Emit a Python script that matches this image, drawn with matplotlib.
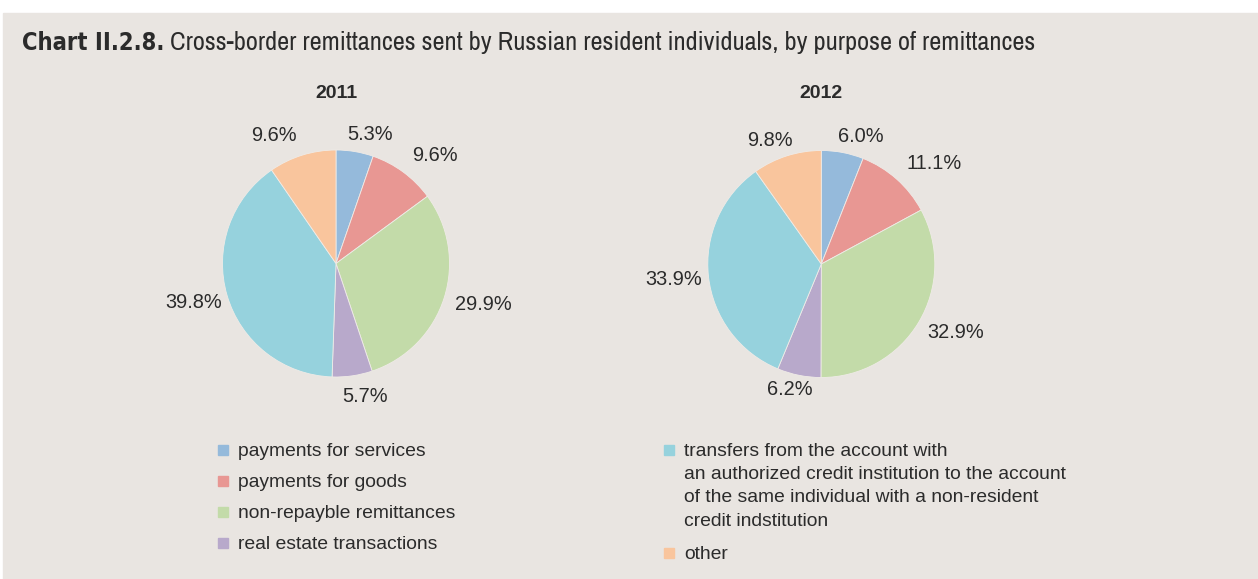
import numpy as np
import matplotlib
matplotlib.use("Agg")
import matplotlib.pyplot as plt
from matplotlib import font_manager
from matplotlib.patches import Rectangle

# Data
years = ["2011", "2012"]
shares_2011 = [5.3, 9.6, 29.9, 5.7, 39.8, 9.6]
shares_2012 = [6.0, 11.1, 32.9, 6.2, 33.9, 9.8]
labels_2011 = ["5.3%", "9.6%", "29.9%", "5.7%", "39.8%", "9.6%"]
labels_2012 = ["6.0%", "11.1%", "32.9%", "6.2%", "33.9%", "9.8%"]
categories = [
    "payments for services",
    "payments for goods",
    "non-repayble remittances",
    "real estate transactions",
    "transfers from the account with\nan authorized credit institution to the account\n"
    "of the same individual with a non-resident\ncredit indstitution",
    "other",
]
colors = ["#95BADB", "#E89793", "#C3DBA9", "#B8A9CB", "#96D2DD", "#F9C59D"]

BG = "#E9E5E1"
TXT = "#2B2B2B"

# Narrow face for the title text, if installed
installed = font_manager.fontManager.ttflist
title_font, title_stretch, title_size = "DejaVu Sans", "condensed", 17
for cand in ["Archivo Narrow", "Liberation Sans Narrow", "Asap Condensed"]:
    if any(f.name == cand for f in installed):
        title_font, title_stretch, title_size = cand, "normal", 19
        break

plt.rcParams["font.family"] = ["Liberation Sans", "DejaVu Sans"]

W, H = 1258, 579
fig = plt.figure(figsize=(W / 100, H / 100), dpi=100)
fig.patch.set_facecolor("white")

# Grey panel
fig.patches.append(Rectangle((3 / W, 0), 1 - 3 / W, (H - 13) / H,
                             transform=fig.transFigure, color=BG, zorder=-5))

# Title: bold part then regular part
renderer = fig.canvas.get_renderer()
t1 = fig.text(22 / W, 1 - 50 / H, "Chart II.2.8.", fontsize=17, fontweight="bold",
              family="DejaVu Sans", fontstretch="condensed",
              color=TXT, va="baseline")
bb = t1.get_window_extent(renderer)
fig.text((bb.x1 + 6) / W, 1 - 50 / H,
         "Cross-border remittances sent by Russian resident individuals, by purpose of remittances",
         fontsize=title_size, family=[title_font, "DejaVu Sans"], fontstretch=title_stretch,
         color=TXT, va="baseline")

# Label placement per slice: distance in radii, angle shift (deg, clockwise)
label_r_2011 = [1.18, 1.29, 1.35, 1.2, 1.3, 1.25]
label_da_2011 = [5.4, 6.0, -1.9, -4.2, 0.8, -8.6]
label_r_2012 = [1.18, 1.33, 1.33, 1.14, 1.31, 1.18]
label_da_2012 = [6.4, 6.8, -4.1, 2.6, 0.6, -5.0]

R = 113.5
size = 3 * R
pies = [(336, 263.5, years[0], shares_2011, labels_2011, label_r_2011, label_da_2011),
        (821.3, 264, years[1], shares_2012, labels_2012, label_r_2012, label_da_2012)]
for cx, cy, year, shares, labels, lrs, das in pies:
    ax = fig.add_axes([(cx - size / 2) / W, (H - cy - size / 2) / H, size / W, size / H])
    wedges, _ = ax.pie(shares, colors=colors, startangle=90, counterclock=False,
                       wedgeprops=dict(edgecolor="#EFEBE7", linewidth=0.6))
    ax.set_xlim(-1.5, 1.5)
    ax.set_ylim(-1.5, 1.5)
    ax.set_aspect("equal")
    ax.axis("off")
    for w, lab, lr, da in zip(wedges, labels, lrs, das):
        ang = np.deg2rad((w.theta1 + w.theta2) / 2 - da)
        ax.text(lr * np.cos(ang), lr * np.sin(ang), lab, ha="center", va="center",
                fontsize=14.4, color=TXT)
    fig.text(cx / W, 1 - 94 / H, year, ha="center", va="center", fontsize=14,
             fontweight="bold", color=TXT)

# Legend, drawn by hand: two columns
legend_x = [223, 223, 223, 223, 669, 669]
legend_y = [450, 481, 512, 543, 450, 553]
for c, lab, lx, ly in zip(colors, categories, legend_x, legend_y):
    fig.patches.append(Rectangle(((lx - 5) / W, 1 - (ly + 5) / H), 10 / W, 10 / H,
                                 transform=fig.transFigure, color=c, zorder=2))
    fig.text((lx + 15) / W, 1 - (ly - 7) / H, lab, ha="left", va="top",
             fontsize=13.9, color=TXT, linespacing=1.48)

plt.savefig("out.png", dpi=100, facecolor=fig.get_facecolor())
